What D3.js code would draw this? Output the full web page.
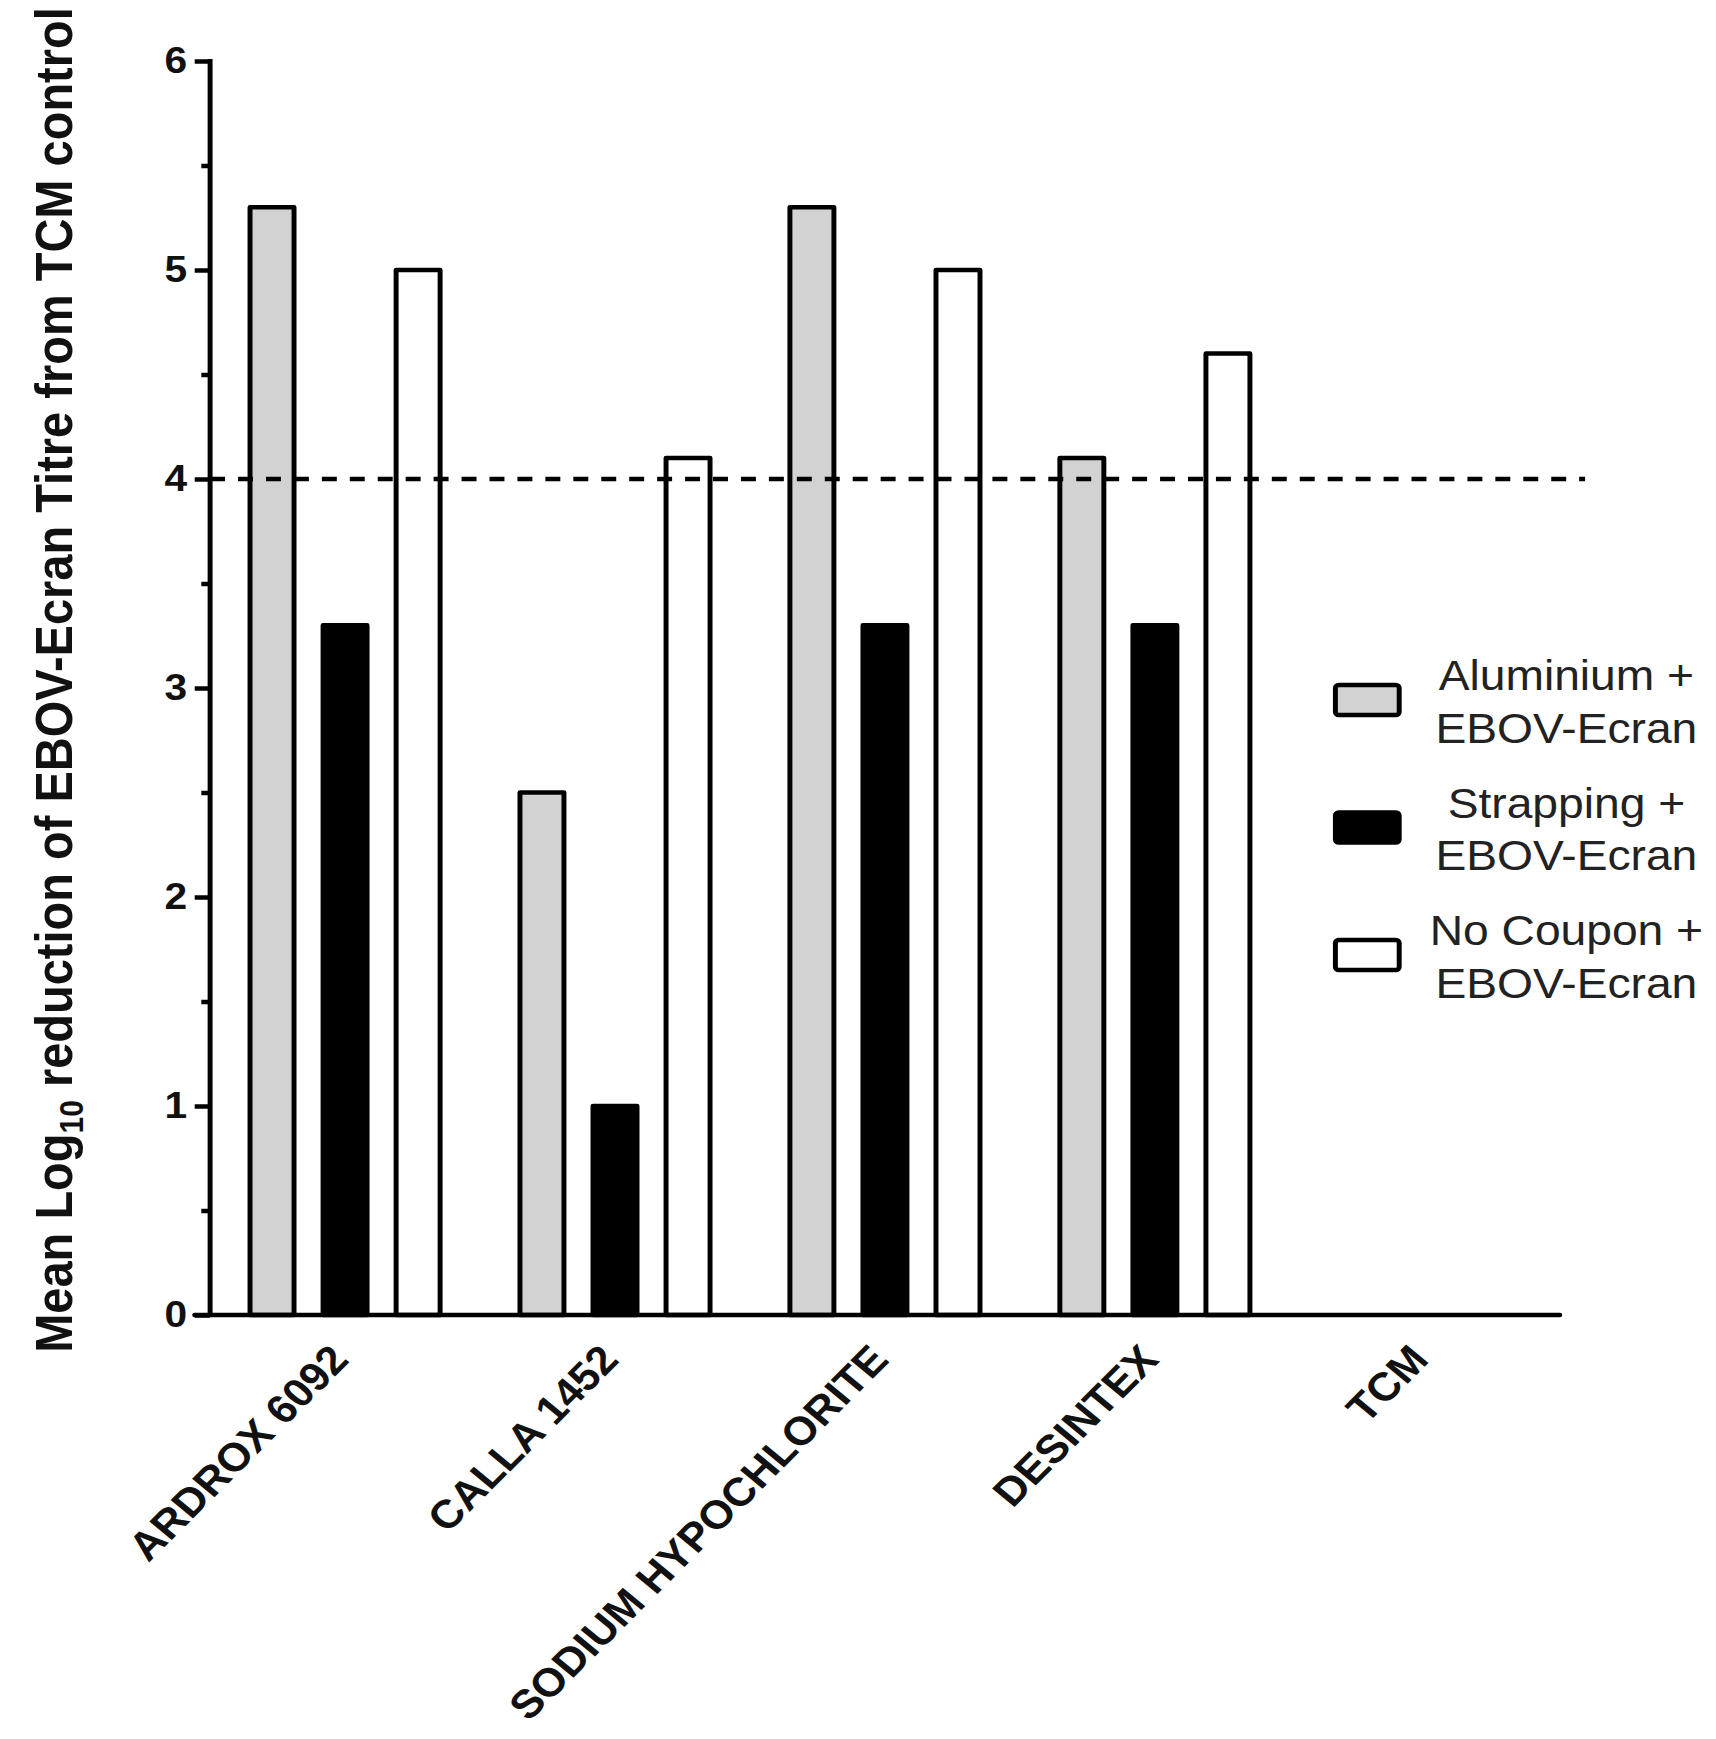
<!DOCTYPE html>
<html lang="en">
<head>
<meta charset="UTF-8">
<title>EBOV-Ecran titre reduction</title>
<script src="https://cdnjs.cloudflare.com/ajax/libs/d3/7.8.5/d3.min.js"></script>
<style>
  body { margin: 0; background: #fff; }
  svg { display: block; }
  text { font-family: "Liberation Sans", Arial, sans-serif; }
</style>
</head>
<body>
<svg id="chart"></svg>
<script>
  const categories = ['ARDROX 6092', 'CALLA 1452', 'SODIUM HYPOCHLORITE', 'DESINTEX', 'TCM']
  const aluminium = [5.3, 2.5, 5.3, 4.1, 0]
  const strapping = [3.3, 1.0, 3.3, 3.3, 0]
  const noCoupon = [5.0, 4.1, 5.0, 4.6, 0]
  const seriesKeys = ['aluminium', 'strapping', 'noCoupon']
  const legendLines = [['Aluminium +', 'EBOV-Ecran'], ['Strapping +', 'EBOV-Ecran'], ['No Coupon +', 'EBOV-Ecran']]
  const seriesFill = ['#d2d2d2', '#000000', '#ffffff']
  const yTicks = [0, 1, 2, 3, 4, 5, 6]
  const yMinorTicks = [0.5, 1.5, 2.5, 3.5, 4.5, 5.5]
  const threshold = 4

  // the source figure is stretched horizontally, so draw in a narrower box and stretch it
  const W = 1716, H = 1739
  const VW = 1560
  const stretch = W / VW
  const svg = d3.select('#chart')
    .attr('width', W).attr('height', H)
    .attr('viewBox', `0 0 ${VW} ${H}`)
    .attr('preserveAspectRatio', 'none')

  const plotLeft = 191, plotRight = 1418, plotTop = 61, plotBottom = 1315
  const sw = 4.5

  const rows = categories.map((c, i) => ({
    cat: c,
    values: [aluminium[i], strapping[i], noCoupon[i]]
  }))

  const x0 = d3.scaleBand().domain(categories).range([plotLeft, plotRight]).padding(0)
  const x1 = d3.scaleBand().domain(seriesKeys).range([-99.6, 99.6]).padding(0)
  const y = d3.scaleLinear().domain([0, 6]).range([plotBottom, plotTop])
  const barW = 40

  // bars
  const groups = svg.append('g').selectAll('g').data(rows).enter().append('g')
    .attr('transform', d => `translate(${x0(d.cat) + x0.bandwidth() / 2},0)`)
  groups.selectAll('rect')
    .data(d => d.values.map((v, k) => ({ key: seriesKeys[k], v, k })).filter(e => e.v > 0))
    .enter().append('rect')
    .attr('x', d => x1(d.key) + x1.bandwidth() / 2 - barW / 2)
    .attr('y', d => y(d.v))
    .attr('width', barW)
    .attr('height', d => y(0) - y(d.v))
    .attr('fill', d => seriesFill[d.k])
    .attr('stroke', '#000')
    .attr('stroke-width', sw)
    .attr('stroke-linejoin', 'round')

  // threshold line
  svg.append('line')
    .attr('x1', plotLeft).attr('x2', 1441)
    .attr('y1', y(threshold)).attr('y2', y(threshold))
    .attr('stroke', '#000').attr('stroke-width', sw)
    .attr('stroke-dasharray', '13.6 11.8')

  // y axis
  const yAxis = svg.append('g').attr('transform', `translate(${plotLeft},0)`)
    .call(d3.axisLeft(y).tickValues(yTicks).tickSize(14).tickSizeOuter(0).tickPadding(7).tickFormat(d3.format('d')))
  yAxis.select('.domain').remove()
  yAxis.selectAll('line').attr('stroke', '#000').attr('stroke-width', sw)
  yAxis.selectAll('text')
    .attr('font-size', 37).attr('font-weight', 'bold').attr('fill', '#111')
    .attr('font-family', '"Liberation Sans", Arial, sans-serif')

  const yMinor = svg.append('g').attr('transform', `translate(${plotLeft},0)`)
    .call(d3.axisLeft(y).tickValues(yMinorTicks).tickSize(8).tickFormat(''))
  yMinor.select('.domain').remove()
  yMinor.selectAll('line').attr('stroke', '#000').attr('stroke-width', sw)

  svg.append('line')
    .attr('x1', plotLeft).attr('x2', plotLeft).attr('y1', plotTop - 2).attr('y2', plotBottom)
    .attr('stroke', '#000').attr('stroke-width', sw)

  // x axis
  svg.append('line')
    .attr('x1', plotLeft - 14).attr('x2', plotRight).attr('y1', plotBottom).attr('y2', plotBottom)
    .attr('stroke', '#000').attr('stroke-width', sw).attr('stroke-linecap', 'round')

  // rotate so the labels sit at 45 degrees once the box is stretched
  const labelAngle = -Math.atan(stretch) * 180 / Math.PI
  svg.append('g').selectAll('text').data(categories).enter().append('text')
    .attr('transform', d => `translate(${x0(d) + x0.bandwidth() / 2 + 5},${plotBottom + 46}) rotate(${labelAngle})`)
    .attr('text-anchor', 'end')
    .attr('font-size', 40).attr('font-weight', 'bold').attr('fill', '#111')
    .text(d => d)

  // y label
  const yl = svg.append('text')
    .attr('transform', `translate(65,680) rotate(-90)`)
    .attr('text-anchor', 'middle')
    .attr('font-size', 47).attr('font-weight', 'bold').attr('fill', '#111')
  yl.append('tspan').text('Mean Log')
  yl.append('tspan').attr('font-size', 30).attr('dy', 10).text('10')
  yl.append('tspan').attr('dy', -10).text(' reduction of EBOV-Ecran Titre from TCM control')

  // legend
  const legend = svg.append('g').selectAll('g').data(legendLines).enter().append('g')
    .attr('transform', (d, i) => `translate(0,${700 + i * 127.5})`)
  legend.append('rect')
    .attr('x', 1214).attr('y', -15).attr('width', 58).attr('height', 30).attr('rx', 3)
    .attr('fill', (d, i) => seriesFill[i])
    .attr('stroke', '#000').attr('stroke-width', sw)
  legend.append('text')
    .attr('x', 1424).attr('y', -10)
    .attr('text-anchor', 'middle')
    .attr('font-size', 42).attr('fill', '#222')
    .text(d => d[0])
  legend.append('text')
    .attr('x', 1424).attr('y', 43)
    .attr('text-anchor', 'middle')
    .attr('font-size', 42).attr('fill', '#222')
    .text(d => d[1])
</script>
</body>
</html>
